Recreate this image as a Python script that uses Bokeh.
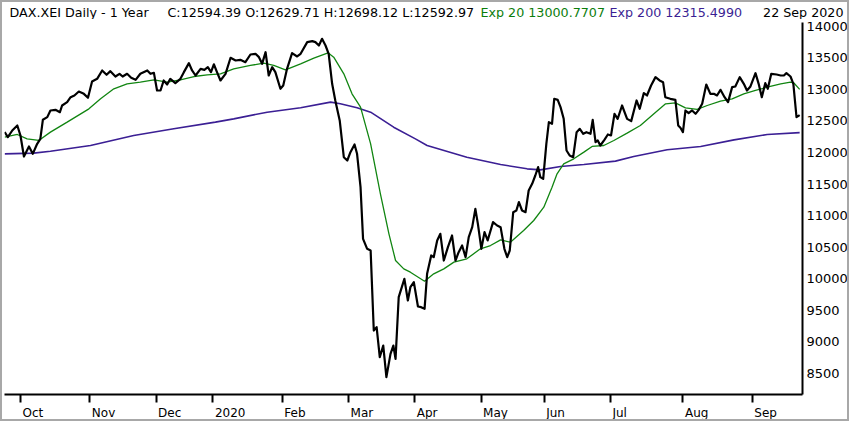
from bokeh.plotting import figure
from bokeh.layouts import column
from bokeh.models import FixedTicker, Range1d, ColumnDataSource, InlineStyleSheet
from bokeh.core.properties import value
from bokeh.embed import file_html
from bokeh.resources import INLINE

# ---- data (trading-day index, value) ----
price_day = [0, 1.0, 2.4, 4.0, 5.0, 6.1, 7.7, 8.9, 10.3, 11.3, 12.1, 13.5, 14.5, 16.1, 17.5,
             18.2, 19.8, 20.9, 22.1, 23.5, 25.1, 26.4, 27.7, 29.3, 30.9, 32.3, 33.5, 35.1,
             36.4, 37.4, 38.8, 40.1, 41.5, 43.0, 45.2, 46.2, 47.3, 48.3, 49.4, 50.4, 51.5,
             52.5, 54.1, 55.7, 56.8, 58.4, 59.4, 60.5, 62.1, 63.3, 64.4, 65.4, 66.3, 67.3,
             68.4, 70.0, 71.6, 73.2, 74.7, 76.3, 77.9, 79.5, 80.6, 81.6, 82.7, 83.7, 84.8,
             85.8, 87.4, 88.3, 89.5, 91.1, 92.7, 93.8, 95.9, 97.5, 98.5, 99.6, 100.6, 101.7,
             102.7, 103.8, 104.8, 106.2, 107.5, 108.6, 109.6, 110.9, 111.7, 112.8, 113.6,
             114.9, 116.0, 117.0, 117.9, 118.9, 120.0, 121.0, 122.3, 123.2, 123.9, 124.9,
             126.7, 127.8, 128.6, 129.7, 131.0, 132.0, 133.1, 133.9, 135.2, 136.0, 137.1,
             138.1, 139.2, 140.5, 141.8, 142.9, 143.9, 145.0, 146.1, 147.1, 148.2, 149.2,
             150.0, 151.1, 152.1, 153.1, 154.8, 156.1, 157.2, 158.4, 159.3, 160.1, 161.2,
             162.2, 163.0, 164.0, 165.1, 166.1, 167.2, 168.2, 169.1, 169.8, 170.7, 171.7,
             172.5, 173.5, 174.2, 175.3, 176.2, 177.2, 178.1, 179.1, 180.2, 181.3, 182.3,
             183.4, 184.4, 185.7, 186.4, 187.3, 188.0, 188.8, 190.1, 191.2, 192.2, 193.3,
             194.3, 195.7, 197.3, 198.6, 200.3, 201.3, 202.6, 203.6, 204.9, 206.3, 207.6,
             208.7, 209.4, 211.0, 212.6, 213.5, 214.2, 215.0, 215.8, 216.8, 217.9, 219.0,
             220.0, 221.1, 222.4, 223.7, 224.8, 225.8, 226.9, 228.2, 229.3, 230.6, 231.6,
             233.0, 234.3, 235.3, 236.4, 238.0, 239.0, 240.0, 241.1, 241.9, 243.0, 244.7,
             246.0, 247.0, 247.8, 249.1, 250.0, 251.0, 252.0]
price_close = [12323, 12244, 12349, 12429, 12270, 11937, 12095, 11979, 12138, 12217, 12519,
               12561, 12667, 12677, 12640, 12746, 12799, 12878, 12905, 12968, 12931, 12868,
               13127, 13169, 13302, 13233, 13291, 13206, 13249, 13206, 13249, 13185, 13153,
               13249, 13302, 13249, 13264, 12984, 12984, 13143, 13079, 13169, 13100, 13169,
               13275, 13418, 13302, 13222, 13328, 13312, 13354, 13275, 13400, 13275, 13143,
               13249, 13503, 13460, 13471, 13434, 13555, 13566, 13513, 13407, 13592, 13222,
               13354, 13275, 13011, 13063, 13328, 13577, 13524, 13566, 13751, 13767, 13751,
               13698, 13804, 13698, 13566, 13090, 12825, 12508, 11926, 11873, 12005, 12127,
               11979, 11450, 10630, 10471, 10445, 9175, 9228, 8752, 8937, 8435, 8805, 8937,
               8726, 9704, 9995, 9652, 9863, 9942, 9556, 9546, 9519, 10075, 10366, 10339,
               10604, 10710, 10286, 10498, 10683, 10286, 10419, 10524, 10339, 10657, 10815,
               11106, 10868, 10472, 10736, 10604, 10895, 10842, 10815, 10472, 10339, 10445,
               11053, 11080, 11212, 11080, 11053, 11397, 11503, 11635, 11768, 11609, 11582,
               12138, 12482, 12455, 12852, 12836, 12720, 12535, 12032, 11953, 11926, 12323,
               12376, 12297, 12323, 12297, 12519, 12164, 12191, 12111, 12201, 12286, 12270,
               12614, 12534, 12746, 12534, 12498, 12826, 12693, 12942, 12905, 13063, 13196,
               13143, 13116, 12878, 12852, 12836, 12429, 12392, 12323, 12667, 12625, 12667,
               12614, 12677, 12773, 13079, 12931, 12931, 12905, 12995, 12878, 12799, 13037,
               13048, 13196, 13090, 12984, 13048, 13259, 13090, 12878, 13100, 13011, 13249,
               13238, 13222, 13222, 13259, 13206, 13090, 12561, 12594]

ema20_day = [0, 4.0, 7.1, 10.8, 14.5, 19.8, 26.7, 30.4, 34.6, 38.8, 43.0, 47.3, 51.5, 55.7,
             60.0, 64.2, 68.4, 72.6, 77.9, 82.1, 85.3, 89.0, 93.8, 98.0, 102.5, 104.3, 107.5,
             110.1, 112.8, 116.0, 119.1, 121.8, 123.9, 126.5, 128.6, 133.1, 136.0, 139.2,
             142.4, 146.5, 150.8, 154.0, 157.2, 160.3, 164.5, 167.7, 170.9, 173.5, 175.1,
             177.2, 180.4, 183.6, 186.2, 189.9, 193.1, 197.3, 201.5, 205.8, 209.5, 212.6,
             215.8, 219.5, 222.7, 226.9, 230.6, 234.3, 238.0, 241.7, 246.0, 249.1, 250.1, 252.0]
ema20_val = [12244, 12286, 12217, 12191, 12323, 12482, 12693, 12852, 13011, 13090, 13116,
             13153, 13116, 13153, 13206, 13233, 13249, 13328, 13381, 13418, 13381, 13312,
             13407, 13497, 13582, 13513, 13249, 12931, 12720, 12138, 11344, 10709, 10286,
             10154, 10101, 9958, 10075, 10154, 10260, 10313, 10472, 10524, 10614, 10577,
             10762, 10921, 11133, 11450, 11662, 11820, 11900, 12006, 12096, 12111, 12191,
             12307, 12429, 12614, 12773, 12788, 12709, 12683, 12746, 12815, 12852, 12931,
             12984, 13037, 13090, 13116, 13106, 13001]

ema200_day = [0, 9.2, 14.5, 27.2, 40.9, 53.6, 66.8, 72.6, 83.2, 93.8, 103.3, 106.4, 111.7,
              116.0, 123.3, 130.2, 133.9, 146.5, 157.2, 165.6, 169.8, 176.2, 183.6, 193.6,
              199.4, 210.0, 220.6, 231.2, 241.7, 252.0]
ema200_val = [11979, 11990, 12021, 12111, 12270, 12376, 12482, 12534, 12640, 12709, 12799,
              12773, 12709, 12640, 12402, 12217, 12111, 11926, 11810, 11741, 11725, 11778,
              11810, 11863, 11937, 12043, 12096, 12201, 12286, 12315]

month_names = ["Oct", "Nov", "Dec", "2020", "Feb", "Mar", "Apr", "May", "Jun", "Jul", "Aug", "Sep"]
month_start = [5, 27, 48, 66, 88, 109, 130, 151, 171, 192, 215, 237]
price_ticks = [8500, 9000, 9500, 10000, 10500, 11000, 11500, 12000, 12500, 13000, 13500, 14000]

header_texts = ["DAX.XEI Daily -  1 Year",
                "C:12594.39 O:12629.71 H:12698.12 L:12592.97",
                "Exp 20 13000.7707",
                "Exp 200 12315.4990"]
header_date = "22 Sep 2020"

FONT = "DejaVu Sans"
GREEN = "#0b7d0b"
PURPLE = "#3b1f94"
W = 850


def bare(fig):
    fig.outline_line_color = None
    fig.grid.visible = False
    fig.axis.visible = False
    return fig


# ---- header strip ----
hdr = bare(figure(frame_width=W, frame_height=19, x_range=Range1d(0, W), y_range=Range1d(19, 0),
                  output_backend="svg", toolbar_location=None,
                  min_border=0, border_fill_color="white"))
hsrc = ColumnDataSource(dict(x=[5, 163, 476, 605], y=[12.3] * 4, t=header_texts,
                             c=["black", "black", GREEN, PURPLE]))
hdr.text(x="x", y="y", text="t", text_color="c", source=hsrc, text_font=value(FONT),
         text_font_size="12.7px", text_align="left", text_baseline="middle")
hdr.text(x=[839], y=[12.3], text=[header_date], text_color="black", text_font=value(FONT),
         text_font_size="12.7px", text_align="right", text_baseline="middle")

# ---- main chart ----
xr = Range1d(-0.06, 252.9)
p = figure(frame_width=798, frame_height=372, x_range=xr, y_range=Range1d(8160, 14063),
           y_axis_location="right", output_backend="svg", toolbar_location=None,
           min_border_left=4, min_border_top=3, min_border_bottom=9, min_border_right=0,
           background_fill_color="white", border_fill_color="white")
p.outline_line_color = None
p.grid.visible = False

xa = p.xaxis[0]
xa.ticker = FixedTicker(ticks=month_start)
xa.major_label_overrides = {m: "" for m in month_start}
xa.major_label_text_font_size = "0px"
xa.major_label_standoff = 0
xa.major_tick_out = 8
xa.major_tick_in = 0
xa.minor_tick_out = 0
xa.minor_tick_in = 0
xa.axis_line_width = 2
xa.major_tick_line_width = 2
xa.axis_line_color = "black"
xa.major_tick_line_color = "black"

ya = p.yaxis[0]
ya.ticker = FixedTicker(ticks=price_ticks)
ya.major_tick_out = 0
ya.major_tick_in = 0
ya.minor_tick_out = 0
ya.minor_tick_in = 0
ya.axis_line_width = 2
ya.axis_line_color = "black"
ya.major_label_standoff = 4
ya.major_label_text_font = FONT
ya.major_label_text_font_size = "13px"
ya.major_label_text_color = "black"

p.line(ema200_day, ema200_val, line_color=PURPLE, line_width=1.6)
p.line(ema20_day, ema20_val, line_color="#118511", line_width=1.3)
p.line(price_day, price_close, line_color="black", line_width=2.2, line_join="round")

# ---- month label strip, sharing the x range ----
ftr = bare(figure(frame_width=798, frame_height=20, x_range=xr, y_range=Range1d(20, 0),
                  output_backend="svg", toolbar_location=None,
                  min_border_left=4, min_border_right=0, min_border_top=0, min_border_bottom=0,
                  border_fill_color="white"))
ftr.text(x=month_start, y=[9] * len(month_start), text=month_names, x_offset=2,
         text_font=value(FONT), text_font_size="12px", text_color="black",
         text_align="left", text_baseline="middle")

layout = column(hdr, p, ftr, spacing=0)
layout.stylesheets = [InlineStyleSheet(
    css=":host::after { content: ''; position: absolute; left: 0px; top: 0px; "
        "right: 1px; bottom: 2px; border: 2px solid #a8a8a8; pointer-events: none; "
        "z-index: 100; }")]
open("out.html", "w").write(file_html(layout, INLINE))
